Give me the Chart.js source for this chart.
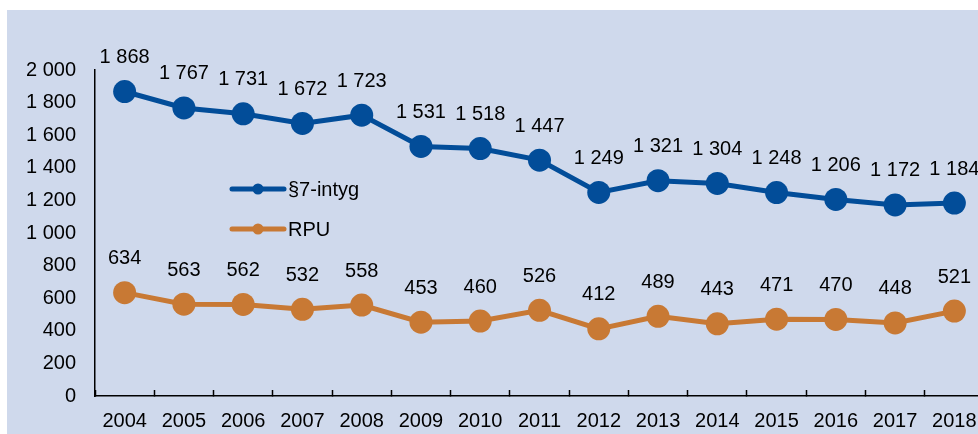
<!DOCTYPE html>
<html>
<head>
<meta charset="utf-8">
<script src="https://cdn.jsdelivr.net/npm/chart.js@4/dist/chart.umd.min.js"></script>
<style>
  html, body { margin: 0; padding: 0; background: #fff; overflow: hidden; }
  #wrap { position: relative; width: 978px; height: 434px; overflow: hidden; }
  #bg { position: absolute; left: 7px; top: 10px; right: 0; bottom: 0; background: #cfd9ec; }
  #chart { position: absolute; left: 0; top: 0; }
</style>
</head>
<body>
<div id="wrap">
  <div id="bg"></div>
  <canvas id="chart" width="996" height="434"></canvas>
</div>
<script>
const years = ["2004", "2005", "2006", "2007", "2008", "2009", "2010", "2011", "2012", "2013", "2014", "2015", "2016", "2017", "2018"];
const intyg = [1868, 1767, 1731, 1672, 1723, 1531, 1518, 1447, 1249, 1321, 1304, 1248, 1206, 1172, 1184];
const rpu = [634, 563, 562, 532, 558, 453, 460, 526, 412, 489, 443, 471, 470, 448, 521];
const seriesNames = ["§7-intyg", "RPU"];

const BLUE = "#024d99";
const ORANGE = "#c87934";
const FONT = "'Liberation Sans', Arial, sans-serif";

function fmt(v) {
    return String(v).replace(/\B(?=(\d{3})+(?!\d))/g, " ");
}

// value labels above each point
const valueLabels = {
    id: "valueLabels",
    afterDatasetsDraw(chart) {
        const ctx = chart.ctx;
        ctx.save();
        ctx.font = "20px " + FONT;
        ctx.fillStyle = "#000";
        ctx.textAlign = "center";
        ctx.textBaseline = "middle";
        chart.data.datasets.forEach((ds, i) => {
            chart.getDatasetMeta(i).data.forEach((pt, j) => {
                ctx.fillText(fmt(ds.data[j]), pt.x, pt.y - 34);
            });
        });
        ctx.restore();
    }
};

// legend sitting inside the plot
const innerLegend = {
    id: "innerLegend",
    afterDraw(chart) {
        const ctx = chart.ctx;
        const x0 = 232, x1 = 284;
        const rows = [189, 229];
        ctx.save();
        chart.data.datasets.forEach((ds, i) => {
            const y = rows[i];
            ctx.strokeStyle = ds.borderColor;
            ctx.lineWidth = 5;
            ctx.lineCap = "round";
            ctx.beginPath();
            ctx.moveTo(x0, y);
            ctx.lineTo(x1, y);
            ctx.stroke();
            ctx.fillStyle = ds.borderColor;
            ctx.beginPath();
            ctx.arc((x0 + x1) / 2, y, 5.5, 0, Math.PI * 2);
            ctx.fill();
            ctx.fillStyle = "#000";
            ctx.font = "20px " + FONT;
            ctx.textBaseline = "middle";
            ctx.textAlign = "left";
            ctx.fillText(ds.label, 288, y + 1);
        });
        ctx.restore();
    }
};

const ctx = document.getElementById("chart").getContext("2d");

new Chart(ctx, {
    type: "line",
    data: {
        labels: years,
        datasets: [{
            label: seriesNames[0],
            data: intyg,
            borderColor: BLUE,
            backgroundColor: BLUE,
            borderWidth: 5,
            pointRadius: 11.5,
            pointBorderWidth: 0,
            pointBackgroundColor: BLUE
        }, {
            label: seriesNames[1],
            data: rpu,
            borderColor: ORANGE,
            backgroundColor: ORANGE,
            borderWidth: 5,
            pointRadius: 11.5,
            pointBorderWidth: 0,
            pointBackgroundColor: ORANGE
        }]
    },
    options: {
        responsive: false,
        animation: false,
        devicePixelRatio: 1,
        layout: { padding: { top: 70, right: 1, left: 0, bottom: 0 } },
        plugins: {
            legend: { display: false },
            tooltip: { enabled: false }
        },
        scales: {
            x: {
                offset: true,
                grid: {
                    offset: true,
                    drawOnChartArea: false,
                    drawTicks: true,
                    tickLength: -6,
                    tickWidth: 1.5,
                    tickColor: "#000"
                },
                border: { color: "#000", width: 1.5 },
                ticks: {
                    color: "#000",
                    font: { family: FONT, size: 20 },
                    padding: 19,
                    maxRotation: 0,
                    autoSkip: false
                },
                afterFit(scale) { scale.height = 38; }
            },
            y: {
                min: 0,
                max: 2000,
                grid: { display: false, drawTicks: false },
                border: { color: "#000", width: 1.5 },
                ticks: {
                    stepSize: 200,
                    color: "#000",
                    font: { family: FONT, size: 20 },
                    padding: 19,
                    callback: v => fmt(v)
                },
                afterFit(scale) { scale.width = 95; }
            }
        }
    },
    plugins: [valueLabels, innerLegend]
});
</script>
</body>
</html>
